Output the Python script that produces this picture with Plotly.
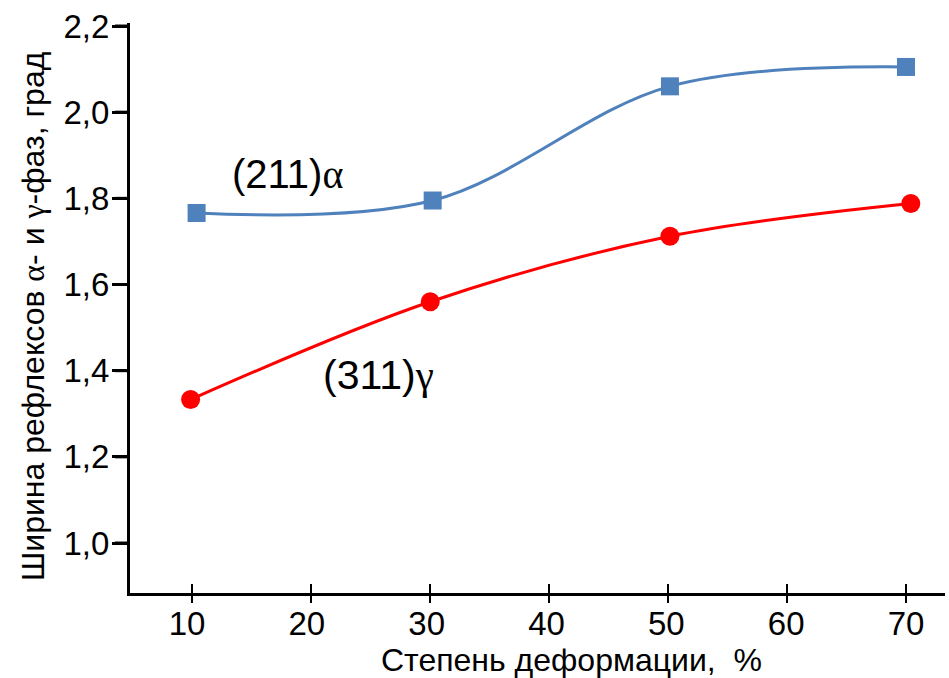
import plotly.graph_objects as go

# Data
alpha_x = [10.8, 30.5, 50.3, 70.0]
alpha_y = [1.766, 1.795, 2.060, 2.105]
gamma_x = [10.3, 30.3, 50.3, 70.4]
gamma_y = [1.333, 1.560, 1.712, 1.788]

x_ticks = [10, 20, 30, 40, 50, 60, 70]
y_ticks = [1.0, 1.2, 1.4, 1.6, 1.8, 2.0, 2.2]
y_ticktext = ["1,0", "1,2", "1,4", "1,6", "1,8", "2,0", "2,2"]

W, H = 949, 678
FONT = "Liberation Sans, Arial, sans-serif"
GREEK = "font-family:Liberation Serif"

fig = go.Figure()
fig.add_trace(go.Scatter(
    x=alpha_x, y=alpha_y, mode="lines+markers",
    line=dict(color="#4F81BD", width=3, shape="spline", smoothing=1.0),
    marker=dict(symbol="square", size=18, color="#4F81BD"),
    showlegend=False, xaxis="x", yaxis="y"))
fig.add_trace(go.Scatter(
    x=gamma_x, y=gamma_y, mode="lines+markers",
    line=dict(color="#FF0000", width=3, shape="spline", smoothing=1.0),
    marker=dict(symbol="circle", size=19, color="#FF0000"),
    showlegend=False, xaxis="x", yaxis="y"))
# dummy traces so the overlay axes are drawn
for xa, ya in [("x2", "y"), ("x3", "y"), ("x", "y2")]:
    fig.add_trace(go.Scatter(x=[None], y=[None], xaxis=xa, yaxis=ya,
                             showlegend=False, hoverinfo="skip"))

px_per_unit = (906 - 187) / 60.0
x0_px = 187 - 10 * px_per_unit
x_dom = [130 / W, 945 / W]
x_rng = [(130 - x0_px) / px_per_unit, (945 - x0_px) / px_per_unit]
x2_dom = [125 / W, 945 / W]
x2_rng = [(125 - x0_px) / px_per_unit, (945 - x0_px) / px_per_unit]
y_dom = [1 - 593 / H, 1 - 23 / H]
y_rng = [0.884, 2.207]

common = dict(showgrid=False, zeroline=False, tickcolor="black",
              automargin=False)

fig.update_layout(
    width=W, height=H,
    margin=dict(l=0, r=0, t=0, b=0),
    paper_bgcolor="white", plot_bgcolor="white",
    font=dict(family=FONT, color="black", size=33),
    # main x axis: labels only (transparent short ticks set the label offset)
    xaxis=dict(domain=x_dom, range=x_rng, tickvals=x_ticks, anchor="y",
               ticks="outside", ticklen=1, tickwidth=1,
               showline=False, showgrid=False, zeroline=False,
               tickcolor="rgba(0,0,0,0)", automargin=False,
               tickfont=dict(size=33, family=FONT)),
    # overlay x axes: the line with its little stub, inner and outer tick halves
    xaxis2=dict(domain=x2_dom, range=x2_rng, tickvals=x_ticks, overlaying="x",
                ticks="inside", ticklen=9, tickwidth=2, showticklabels=False,
                showline=True, linecolor="black", linewidth=3, anchor="y",
                **common),
    xaxis3=dict(domain=x2_dom, range=x2_rng, tickvals=x_ticks, overlaying="x",
                ticks="outside", ticklen=9, tickwidth=2, showticklabels=False,
                showline=False, anchor="y", **common),
    # main y axis: labels only
    yaxis=dict(domain=y_dom, range=y_rng, tickvals=y_ticks, ticktext=y_ticktext,
               ticks="outside", ticklen=11, tickwidth=1,
               tickcolor="rgba(0,0,0,0)",
               showline=True, linecolor="black", linewidth=3,
               showgrid=False, zeroline=False, anchor="x", automargin=False,
               tickfont=dict(size=33, family=FONT)),
    yaxis2=dict(domain=y_dom, range=y_rng, tickvals=y_ticks, overlaying="y",
                side="left", ticks="outside", ticklen=15, tickwidth=3,
                showticklabels=False, showline=True, linecolor="black",
                linewidth=3, anchor="x", **common),
)

# y-axis tick marks drawn at the tick values through the y scale
for v in y_ticks:
    fig.add_shape(type="line", xref="paper", yref="y",
                  x0=115 / W, x1=130 / W, y0=v, y1=v,
                  line=dict(color="black", width=3), layer="above")

# axis titles
fig.add_annotation(x=571 / W, y=1 - 660 / H, xref="paper", yref="paper",
                   xanchor="center", yanchor="middle", borderpad=0,
                   showarrow=False, text="Степень деформации,  %",
                   font=dict(size=32, family=FONT, color="black"))
fig.add_annotation(x=33 / W, y=1 - 316 / H, xref="paper", yref="paper",
                   xanchor="center", yanchor="middle", borderpad=0,
                   showarrow=False, textangle=-90,
                   text=f"Ширина рефлексов <span style='{GREEK}'>α</span>- и "
                        f"<span style='{GREEK}'>γ</span>-фаз, град",
                   font=dict(size=32, family=FONT, color="black"))

# series labels
fig.add_annotation(x=18.4, y=1.855, xref="x", yref="y", showarrow=False,
                   text=f"(211)<span style='{GREEK}'>α</span>",
                   font=dict(size=40, family=FONT, color="black"))
fig.add_annotation(x=26.0, y=1.39, xref="x", yref="y", showarrow=False,
                   text=f"(311)<span style='{GREEK}'>γ</span>",
                   font=dict(size=41, family=FONT, color="black"))

fig.write_html("out.html")
